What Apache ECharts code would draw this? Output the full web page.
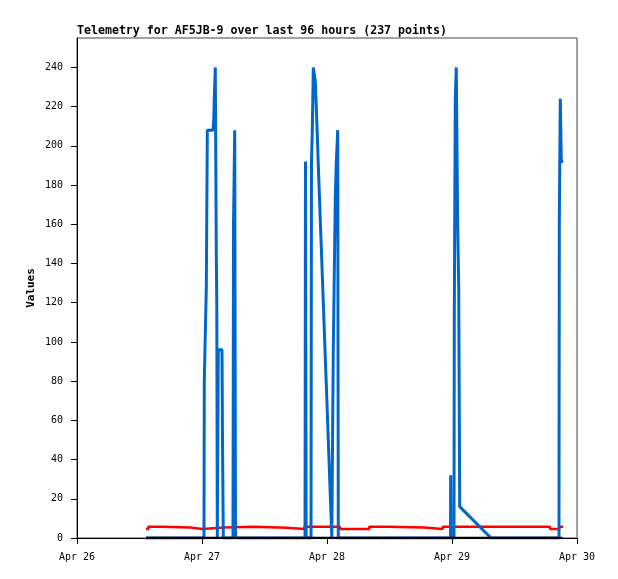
<!DOCTYPE html>
<html>
<head>
<meta charset="utf-8">
<script src="https://cdn.jsdelivr.net/npm/echarts@6/dist/echarts.min.js"></script>
<style>
  html, body { margin: 0; padding: 0; background: #fff; }
  #chart { width: 618px; height: 579px; }
</style>
</head>
<body>
<div id="chart"></div>
<script>
// times are hours since Apr 26 00:00
const xTickLabels = ['Apr 26', 'Apr 27', 'Apr 28', 'Apr 29', 'Apr 30'];
const yTicks = [0, 20, 40, 60, 80, 100, 120, 140, 160, 180, 200, 220, 240];

// blue series (spiky readings)
const blueTimes = [
  13.25, 24.38, 24.44, 24.63, 24.83, 25.02, 26.11, 26.25, 26.36, 26.55, 26.75, 26.84, 26.94,
  27.13, 27.84, 27.94, 28.09, 29.95, 30.05, 30.28, 30.43,
  43.78, 43.87, 44.0, 44.93, 45.02, 45.18, 45.37, 45.6, 45.75, 45.95, 46.14, 46.33, 46.52,
  46.71, 46.91, 47.1, 47.29, 47.48, 47.67, 47.87, 48.06, 48.25, 48.44, 48.63, 48.83, 48.92,
  49.09, 49.21, 49.4, 49.59, 49.79, 50.06, 50.17,
  71.71, 71.75, 71.81, 72.38, 72.44, 72.63, 72.82, 72.96, 73.09, 73.29, 73.48, 79.49,
  92.54, 92.6, 92.79, 92.99, 93.37
];
const blueValues = [
  0, 0, 80, 104, 128, 208, 208, 213, 224, 240, 144, 120, 0,
  96, 96, 48, 0, 0, 160, 208, 0,
  0, 192, 0, 0, 192, 208, 240, 240, 233, 219, 205, 190, 176,
  162, 148, 134, 120, 106, 92, 78, 64, 50, 36, 22, 8, 0,
  58, 96, 135, 173, 192, 208, 0,
  0, 32, 0, 0, 112, 224, 240, 240, 160, 128, 16, 0,
  0, 160, 224, 192, 192
];

// red series (low steady readings)
const redTimes = [13.25, 13.69, 16.45, 21.7, 24.07, 28.2, 33.85, 40.26, 43.64, 50.5, 56.12, 59.77, 66.68, 70.21, 90.82, 92.6, 93.37];
const redValues = [4.6, 5.8, 5.3, 4.6, 5.3, 5.8, 5.2, 4.6, 5.8, 4.6, 5.8, 5.3, 4.6, 5.8, 4.6, 5.8, 5.8];

// black series (flat zero)
const blackTimes = [13.25, 93.2];
const blackValues = [0, 0];

const zip = (xs, ys) => xs.map((x, i) => [x, ys[i]]);
const mono = 'DejaVu Sans Mono';

const chart = echarts.init(document.getElementById('chart'));
chart.setOption({
  animation: false,
  title: {
    text: 'Telemetry for AF5JB-9 over last 96 hours (237 points)',
    left: 77,
    top: 25,
    padding: 0,
    textStyle: { fontFamily: mono, fontSize: 11.6, fontWeight: 'bold', color: '#000' }
  },
  grid: {
    left: 77,
    top: 38,
    right: 41,
    bottom: 41,
    show: true,
    borderColor: '#444',
    borderWidth: 1
  },
  xAxis: {
    type: 'value',
    min: 0,
    max: 96,
    interval: 24,
    axisLine: { lineStyle: { color: '#000' } },
    axisTick: { inside: false, length: 6, lineStyle: { color: '#000' } },
    splitLine: { show: false },
    axisLabel: {
      margin: 14,
      fontFamily: mono,
      fontSize: 10,
      color: '#000',
      formatter: v => xTickLabels[Math.round(v / 24)]
    }
  },
  yAxis: {
    type: 'value',
    min: 0,
    max: 255,
    name: 'Values',
    nameLocation: 'middle',
    nameGap: 40,
    nameMoveOverlap: false,
    nameTextStyle: { fontFamily: mono, fontSize: 11, fontWeight: 'bold', color: '#000' },
    axisLine: { show: true, lineStyle: { color: '#000' } },
    axisTick: { show: true, length: 6, customValues: yTicks, lineStyle: { color: '#000' } },
    splitLine: { show: false },
    axisLabel: {
      margin: 14,
      fontFamily: mono,
      fontSize: 10,
      color: '#000',
      customValues: yTicks
    }
  },
  series: [
    {
      name: 'red',
      type: 'line',
      step: 'end',
      showSymbol: false,
      z: 2,
      lineStyle: { color: '#ff0000', width: 2.5 },
      data: zip(redTimes, redValues)
    },
    {
      name: 'blue',
      type: 'line',
      showSymbol: false,
      z: 3,
      lineStyle: { color: '#0066cc', width: 3 },
      data: zip(blueTimes, blueValues)
    },
    {
      name: 'black',
      type: 'line',
      showSymbol: false,
      z: 4,
      lineStyle: { color: '#000', width: 2.5 },
      data: zip(blackTimes, blackValues)
    }
  ]
});
</script>
</body>
</html>
